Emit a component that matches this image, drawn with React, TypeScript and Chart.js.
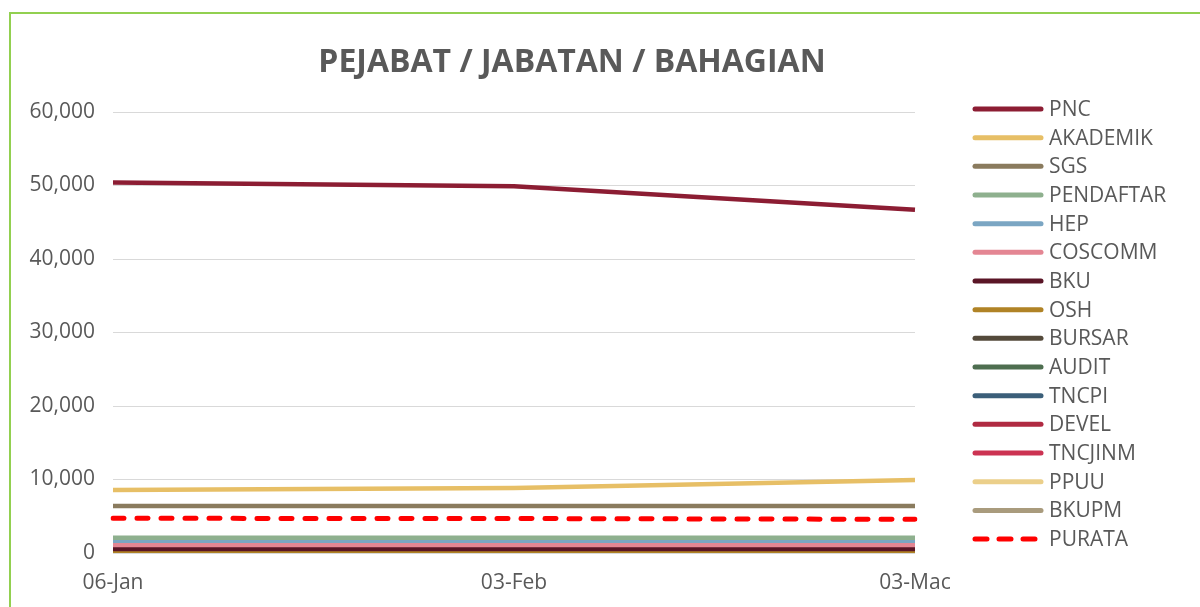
import { useEffect, useRef } from "react";
import { Chart, registerables } from "chart.js";

Chart.register(...registerables);

const chartTitle = "PEJABAT / JABATAN / BAHAGIAN";
const categories = ["06-Jan", "03-Feb", "03-Mac"];
const yTicks = [0, 10000, 20000, 30000, 40000, 50000, 60000];

const seriesNames = [
  "PNC", "AKADEMIK", "SGS", "PENDAFTAR", "HEP", "COSCOMM", "BKU", "OSH",
  "BURSAR", "AUDIT", "TNCPI", "DEVEL", "TNCJINM", "PPUU", "BKUPM", "PURATA",
];

const PNC = [50400, 49900, 46700];
const AKADEMIK = [8570, 8840, 9930];
const SGS = [6400, 6400, 6380];
const PENDAFTAR = [2070, 2070, 2060];
const HEP = [1660, 1660, 1650];
const COSCOMM = [1080, 1080, 1080];
const BKU = [550, 550, 550];
const OSH = [100, 100, 100];
const BURSAR = [150, 150, 150];
const AUDIT = [80, 80, 80];
const TNCPI = [120, 120, 120];
const DEVEL = [200, 200, 200];
const TNCJINM = [200, 200, 200];
const PPUU = [150, 150, 150];
const BKUPM = [180, 180, 180];
const PURATA = [4720, 4690, 4580];

const seriesValues = [
  PNC, AKADEMIK, SGS, PENDAFTAR, HEP, COSCOMM, BKU, OSH,
  BURSAR, AUDIT, TNCPI, DEVEL, TNCJINM, PPUU, BKUPM, PURATA,
];

const seriesColors = [
  "#8C1D33", "#E7BF66", "#8A7B5E", "#8EB08E", "#7BA6C3", "#E48693",
  "#5A1526", "#B08326", "#544A3B", "#4E6E50", "#3B5F79", "#B02A42",
  "#CC3352", "#EBCF8A", "#A99B7D", "#FF0000",
];

const FONT = "'Open Sans', 'Noto Sans', sans-serif";
const TEXT = "#595959";

const overlayPlugin = {
  id: "overlay",
  afterDraw(chart: any) {
    const ctx = chart.ctx as CanvasRenderingContext2D;
    ctx.save();
    // title
    ctx.fillStyle = TEXT;
    ctx.font = `bold 32px ${FONT}`;
    ctx.textAlign = "center";
    ctx.textBaseline = "middle";
    ctx.fillText(chartTitle, 572, 63);
    // legend
    ctx.font = `21px ${FONT}`;
    ctx.textAlign = "left";
    chart.data.datasets.forEach((ds: any, i: number) => {
      const y = 109 + i * 28.67;
      ctx.beginPath();
      ctx.strokeStyle = ds.borderColor;
      ctx.lineWidth = 5;
      ctx.lineCap = "round";
      ctx.setLineDash(ds.borderDash && ds.borderDash.length ? [12, 12] : []);
      ctx.moveTo(975, y);
      ctx.lineTo(1041, y);
      ctx.stroke();
      ctx.setLineDash([]);
      ctx.fillStyle = TEXT;
      ctx.fillText(ds.label, 1049, y + 1);
    });
    // border
    ctx.fillStyle = "#92D050";
    ctx.fillRect(9, 12, 1200, 2);
    ctx.fillRect(9, 12, 2, 600);
    ctx.restore();
  },
};

export default function App() {
  const ref = useRef<HTMLCanvasElement | null>(null);

  useEffect(() => {
    document.body.style.margin = "0";
    const canvas = ref.current!;
    const datasets = seriesNames.map((name, i) => ({
      label: name,
      data: seriesValues[i],
      borderColor: seriesColors[i],
      backgroundColor: seriesColors[i],
      borderWidth: name === "PURATA" ? 5 : 4.5,
      borderDash: name === "PURATA" ? [11, 13] : [],
      borderCapStyle: name === "PURATA" ? "round" : "butt",
      pointRadius: 0,
      pointHoverRadius: 0,
      tension: 0,
      fill: false,
    }));
    const chart = new Chart(canvas, {
      type: "line",
      data: { labels: categories, datasets },
      options: {
        responsive: false,
        animation: false,
        devicePixelRatio: 1,
        layout: { padding: { top: 112, left: 0, right: 285, bottom: 0 } },
        plugins: {
          legend: { display: false },
          title: { display: false },
          tooltip: { enabled: false },
        },
        scales: {
          x: {
            offset: false,
            grid: { display: false, drawTicks: false },
            border: { display: false },
            ticks: {
              color: TEXT,
              font: { family: FONT, size: 21 },
              padding: 17,
              maxRotation: 0,
              autoSkip: false,
            },
            afterFit: (s: any) => { s.height = 54; },
          },
          y: {
            min: 0,
            max: 60000,
            afterBuildTicks: (s: any) => { s.ticks = yTicks.map((v) => ({ value: v })); },
            grid: { color: "#D9D9D9", lineWidth: 1, drawTicks: false },
            border: { display: false },
            ticks: {
              color: TEXT,
              font: { family: FONT, size: 21 },
              padding: 18,
              callback: (v: any) => Number(v).toLocaleString("en-US"),
            },
            afterFit: (s: any) => { s.width = 113; },
          },
        },
      },
      plugins: [overlayPlugin],
    });
    return () => chart.destroy();
  }, []);

  return (
    <div style={{ position: "absolute", left: 0, top: 0, width: 1200, height: 607, background: "#fff" }}>
      <canvas ref={ref} width={1200} height={607} style={{ display: "block" }} />
    </div>
  );
}
